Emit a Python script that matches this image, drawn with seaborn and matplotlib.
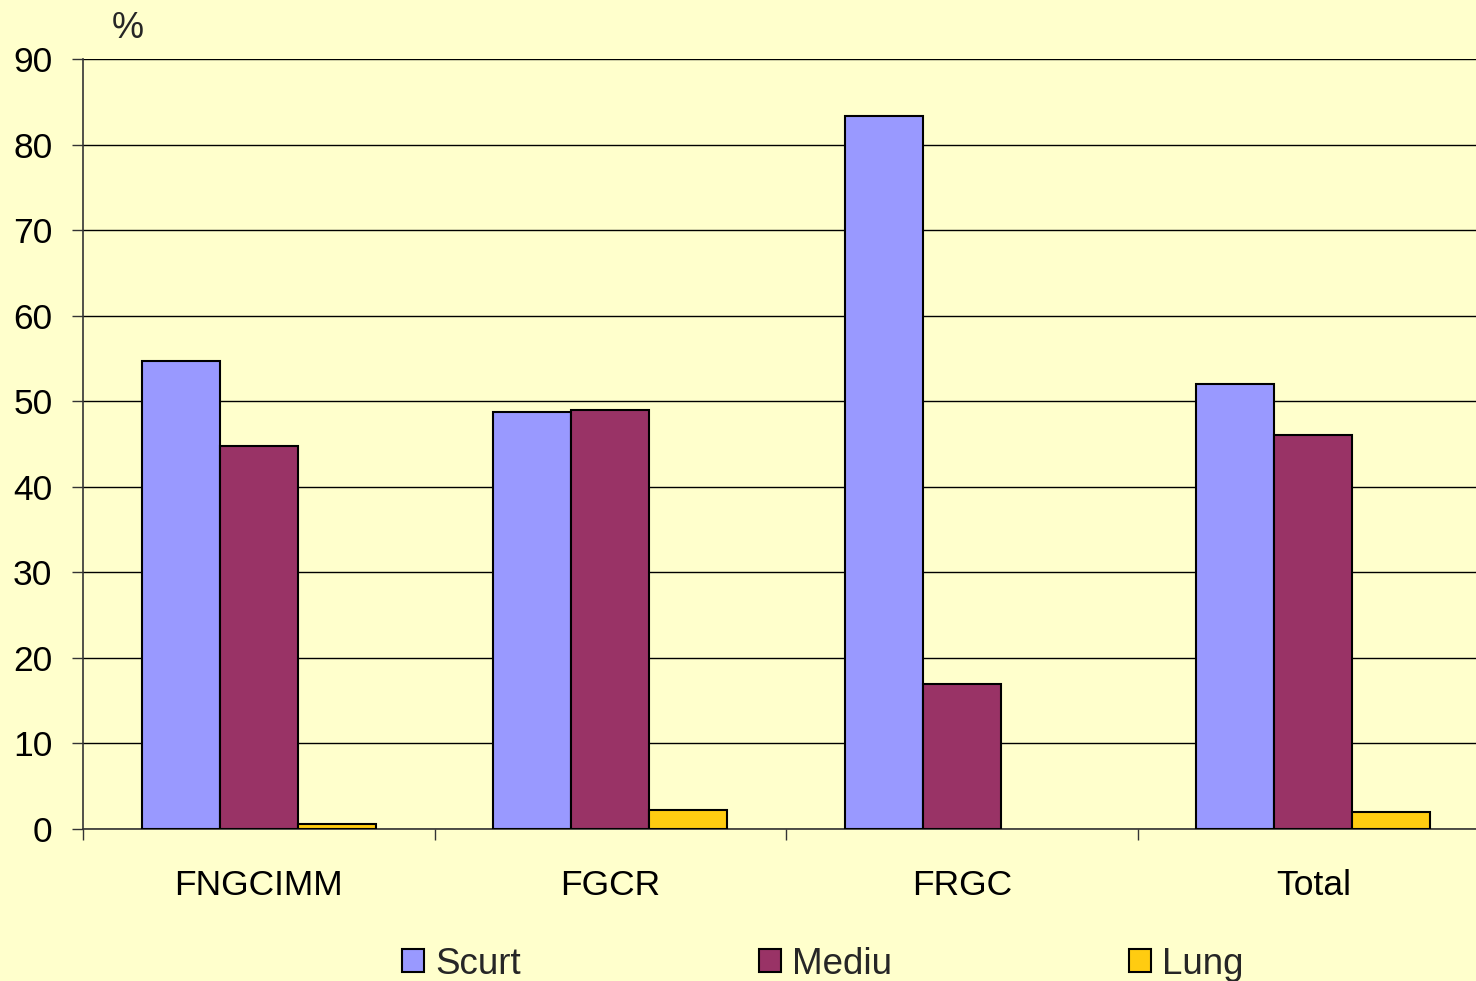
import matplotlib.pyplot as plt
import matplotlib.patches as patches
import numpy as np
import pandas as pd
import seaborn as sns

# data
categories = ["FNGCIMM", "FGCR", "FRGC", "Total"]
series = ["Scurt", "Mediu", "Lung"]
scurt = [54.7, 48.7, 83.3, 52.0]
mediu = [44.8, 49.0, 16.9, 46.1]
lung = [0.6, 2.2, 0.0, 2.0]
yticks = list(range(0, 100, 10))

colours = {"Scurt": "#9999FF", "Mediu": "#993366", "Lung": "#FFCC11"}
back_colour = "#FFFFCC"

df = pd.DataFrame({
    "cat": categories * 3,
    "serie": ["Scurt"] * 4 + ["Mediu"] * 4 + ["Lung"] * 4,
    "val": scurt + mediu + lung,
})

sns.set_theme(style="white")
plt.rcParams['font.family'] = ['Liberation Sans', 'DejaVu Sans']

fig = plt.figure(figsize=(14.76, 9.81), dpi=100)
fig.patch.set_facecolor(back_colour)
ax = fig.add_axes([83 / 1476, 1 - 829 / 981, 1406 / 1476, 770 / 981])
ax.set_facecolor(back_colour)

sns.barplot(data=df, x="cat", y="val", hue="serie", order=categories, hue_order=series,
            palette=colours, width=0.667, gap=0, edgecolor="black", linewidth=1.5,
            saturation=1, ax=ax, legend=False, zorder=3)

# a zero value draws no visible bar
for p in ax.patches:
    if p.get_height() == 0:
        p.set_visible(False)

ax.set_xlim(-0.5, 3.5)
ax.set_ylim(0, 90)
ax.set_xlabel("")
ax.set_ylabel("")

# y axis
ax.set_yticks(yticks)
ax.tick_params(axis="y", direction="out", length=8, width=1, color="#333333",
               pad=14, labelsize=25.5, labelcolor="black", left=True)
ax.yaxis.grid(True, color="black", linewidth=1)
ax.set_axisbelow(True)

# x axis: ticks between categories, labels at centres
ax.set_xticks([-0.5, 0.5, 1.5, 2.5])
ax.set_xticklabels([])
ax.set_xticks(range(len(categories)), minor=True)
ax.set_xticklabels(categories, minor=True)
ax.tick_params(axis="x", which="major", direction="out", length=8, width=1,
               color="#333333", bottom=True)
ax.tick_params(axis="x", which="minor", length=0, pad=29, labelsize=25.5,
               labelcolor="black", bottom=True)

for s in ["top", "right"]:
    ax.spines[s].set_visible(False)
for s in ["left", "bottom"]:
    ax.spines[s].set_color("#333333")
    ax.spines[s].set_linewidth(1.2)

fig.text(128 / 1476, 1 - 29 / 981, "%", fontsize=26, ha="center", va="center")

handles = [patches.Patch(facecolor=colours[s], edgecolor="black", linewidth=1.5) for s in series]
fig.legend(handles, series, loc="center", bbox_to_anchor=(823 / 1476, 1 - 964 / 981),
           ncol=3, frameon=False, fontsize=26.5, handlelength=0.6, handleheight=0.6,
           handletextpad=0.3, columnspacing=6.45, borderaxespad=0, borderpad=0)

fig.savefig("out.png", dpi=100, facecolor=back_colour)
